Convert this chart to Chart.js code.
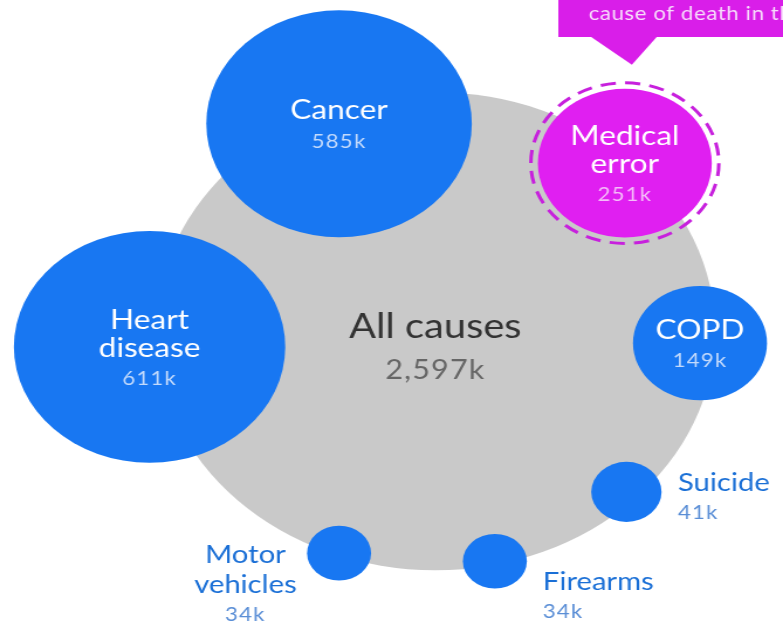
<!DOCTYPE html>
<html>
<head>
<meta charset="utf-8">
<script src="https://cdn.jsdelivr.net/npm/chart.js@4.4.1/dist/chart.umd.min.js"></script>
<style>
  html, body { margin: 0; padding: 0; background: #fff; overflow: hidden; }
  /* the source picture is stretched sideways, so the whole chart is too */
  #wrap { width: 669px; height: 625px; transform: scaleX(1.1704); transform-origin: 0 0; }
</style>
</head>
<body>
<div id="wrap"><canvas id="bubbleChart" width="669" height="625"></canvas></div>
<script>
// deaths per year in the US, thousands
var categories = ['Heart disease', 'Cancer', 'Medical error', 'COPD', 'Suicide', 'Motor vehicles', 'Firearms'];
var deaths = [611, 585, 251, 149, 41, 34, 34];
var totalLabel = 'All causes';
var totalDeaths = 2597;

// bubble layout, 0-100 on both axes
var posX = [19.1, 43.3, 79.8, 89.4, 80.0, 43.3, 63.2];
var posY = [55.5, 19.8, 26.1, 54.9, 78.7, 88.5, 89.8];
var totalX = 55.6;
var totalY = 53.0;

var calloutText = 'cause of death in the U.S.';

var BLUE = '#1877f2';
var MAGENTA = '#e01ff1';
var GREY = '#c9c9c9';
var K = 4.69; // px per sqrt(thousand deaths)

function radius(v) { return K * Math.sqrt(v); }
function fmt(v) { return v.toLocaleString('en-US') + 'k'; }

var highlight = categories.indexOf('Medical error');

var partPoints = categories.map(function (c, i) {
  return { x: posX[i], y: posY[i], r: radius(deaths[i]) };
});

// how each label sits against its bubble
var labelMode = { 'Suicide': 'right', 'Firearms': 'belowRight', 'Motor vehicles': 'left' };

function drawLines(ctx, lines, x, y, align) {
  ctx.textAlign = align;
  lines.forEach(function (l) {
    ctx.font = l.font;
    ctx.fillStyle = l.color;
    ctx.letterSpacing = l.spacing || '0px';
    ctx.fillText(l.text, x, y + l.dy);
  });
}

var labelPlugin = {
  id: 'bubbleLabels',
  afterDatasetsDraw: function (chart) {
    var ctx = chart.ctx;
    ctx.save();
    ctx.textBaseline = 'middle';

    var all = chart.getDatasetMeta(0).data[0];
    drawLines(ctx, [
      { text: totalLabel, dy: -4, font: '34px Lato', color: '#333333' },
      { text: fmt(totalDeaths), dy: 39, font: '26px Lato', color: '#666666', spacing: '1px' }
    ], all.x, all.y, 'center');

    var pts = chart.getDatasetMeta(1).data;
    categories.forEach(function (c, i) {
      var p = pts[i];
      var words = c.split(' ');
      var mode = labelMode[c];
      var lines = [];
      if (!mode) {
        var first = -13 - 14 * (words.length - 1);
        words.forEach(function (w, j) {
          lines.push({ text: w, dy: first + 28 * j, font: '27px Lato', color: '#ffffff' });
        });
        lines.push({ text: fmt(deaths[i]), dy: first + 28 * (words.length - 1) + 31, font: '19px Lato',
          color: i === highlight ? '#f5bdf9' : '#c3dafc', spacing: '1px' });
        drawLines(ctx, lines, p.x, p.y, 'center');
      } else {
        var x, y0, align;
        if (mode === 'right') { x = p.x + 44; y0 = -9; align = 'left'; }
        else if (mode === 'belowRight') { x = p.x + 41; y0 = 21; align = 'left'; }
        else { x = p.x - 80; y0 = 2; align = 'center'; }
        words.forEach(function (w, j) {
          lines.push({ text: w, dy: y0 + 30 * j, font: '25px Lato', color: '#1a6fd6' });
        });
        lines.push({ text: fmt(deaths[i]), dy: y0 + 30 * words.length, font: '19px Lato',
          color: '#5a8ed6', spacing: '1px' });
        drawLines(ctx, lines, x, p.y, align);
      }
    });

    // callout above the medical error bubble
    var m = pts[highlight];
    var ringTop = m.y - radius(deaths[highlight]) - 6;
    ctx.fillStyle = '#d91ee9';
    ctx.fillRect(477, 0, chart.width - 477, 37);
    ctx.beginPath();
    ctx.moveTo(m.x - 30, 36);
    ctx.lineTo(m.x + 28, 36);
    ctx.lineTo(m.x + 6, ringTop - 18);
    ctx.closePath();
    ctx.fill();
    ctx.font = '19px Lato';
    ctx.fillStyle = '#f7dcfb';
    ctx.textAlign = 'left';
    ctx.letterSpacing = '0.5px';
    ctx.fillText(calloutText, 503, 14);
    ctx.restore();
  }
};

// dashed ring round the highlighted bubble
var dashPlugin = {
  id: 'dashRing',
  beforeDatasetDraw: function (chart, args) {
    if (args.index === 2) { chart.ctx.save(); chart.ctx.setLineDash([13, 8]); }
  },
  afterDatasetDraw: function (chart, args) {
    if (args.index === 2) chart.ctx.restore();
  }
};

var ctxB = document.getElementById('bubbleChart').getContext('2d');
var myBubbleChart = new Chart(ctxB, {
  type: 'bubble',
  data: {
    datasets: [{
      label: totalLabel,
      data: [{ x: totalX, y: totalY, r: radius(totalDeaths) }],
      backgroundColor: GREY,
      borderWidth: 0,
      clip: false,
      order: 3
    }, {
      label: 'Causes',
      data: partPoints,
      backgroundColor: categories.map(function (c, i) { return i === highlight ? MAGENTA : BLUE; }),
      borderWidth: 0,
      clip: false,
      order: 2
    }, {
      label: 'Ring',
      data: [{ x: posX[highlight], y: posY[highlight], r: radius(deaths[highlight]) + 6 }],
      backgroundColor: 'rgba(0,0,0,0)',
      borderColor: '#c720dd',
      borderWidth: 3,
      clip: false,
      order: 1
    }]
  },
  options: {
    responsive: false,
    animation: false,
    events: [],
    layout: { padding: 0, autoPadding: false },
    scales: {
      x: { type: 'linear', min: 0, max: 100, display: false },
      y: { type: 'linear', min: 0, max: 100, reverse: true, display: false }
    },
    plugins: {
      legend: { display: false },
      tooltip: { enabled: false }
    }
  },
  plugins: [dashPlugin, labelPlugin]
});
</script>
</body>
</html>
